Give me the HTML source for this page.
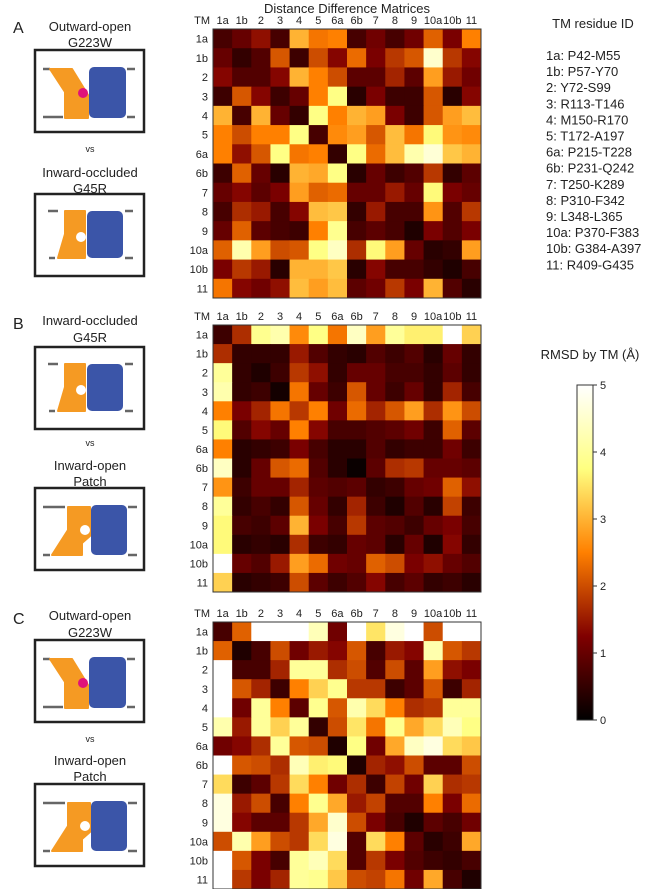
<!DOCTYPE html>
<html><head><meta charset="utf-8"><style>
body{margin:0;background:#fff}
svg{display:block;font-family:"Liberation Sans",sans-serif}
</style></head><body>
<svg id="fig" width="648" height="889" viewBox="0 0 648 889" xmlns="http://www.w3.org/2000/svg">
<defs>
<g id="outopen">
<rect x="0" y="0" width="109" height="82" fill="#fff" stroke="#222" stroke-width="2.5"/>
<g stroke="#666" stroke-width="2.5"><line x1="8" y1="19" x2="15" y2="19"/><line x1="8" y1="67" x2="28" y2="67"/><line x1="92" y1="19" x2="100" y2="19"/><line x1="92" y1="67" x2="100" y2="67"/></g>
<polygon points="15,19 37,19 53,45 53,68 30,68 30,42" fill="#f59a23" stroke="#f59a23" stroke-width="2" stroke-linejoin="round"/>
<rect x="54" y="17" width="37" height="51" rx="5" fill="#3b55a8"/>
<circle cx="48" cy="43" r="5" fill="#e0127a"/>
</g>
<g id="inocc">
<rect x="0" y="0" width="109" height="82" fill="#fff" stroke="#222" stroke-width="2.5"/>
<g stroke="#666" stroke-width="2.5"><line x1="13" y1="17" x2="23" y2="17"/><line x1="14" y1="64" x2="20" y2="64"/><line x1="90" y1="17" x2="98" y2="17"/><line x1="90" y1="64" x2="98" y2="64"/></g>
<polygon points="30,17 50,17 50,64 23,64 30,40" fill="#f59a23" stroke="#f59a23" stroke-width="2" stroke-linejoin="round"/>
<circle cx="46" cy="43" r="5" fill="#fff"/>
<rect x="52" y="17" width="36" height="47" rx="5" fill="#3b55a8"/>
</g>
<g id="inopen">
<rect x="0" y="0" width="109" height="82" fill="#fff" stroke="#222" stroke-width="2.5"/>
<g stroke="#666" stroke-width="2.5"><line x1="8" y1="19" x2="30" y2="19"/><line x1="8" y1="67" x2="15" y2="67"/><line x1="93" y1="19" x2="102" y2="19"/><line x1="93" y1="67" x2="102" y2="67"/></g>
<polygon points="33,19 55,19 55,48 47,55 47,67 17,67 33,42" fill="#f59a23" stroke="#f59a23" stroke-width="2" stroke-linejoin="round"/>
<circle cx="50" cy="42" r="5" fill="#fff"/>
<rect x="56" y="17" width="36" height="50" rx="5" fill="#3b55a8"/>
</g>
<linearGradient id="cbgrad" x1="0" y1="1" x2="0" y2="0">
<stop offset="0" stop-color="#000"/><stop offset="0.25" stop-color="#800000"/><stop offset="0.5" stop-color="#ff8000"/><stop offset="0.75" stop-color="#ffff80"/><stop offset="1" stop-color="#fff"/>
</linearGradient>
</defs>
<g font-size="13" fill="#222" text-anchor="middle">
<text x="13" y="33" font-size="16" text-anchor="start">A</text>
<text x="90" y="31">Outward-open</text>
<text x="90" y="47">G223W</text>
<text x="90" y="152" font-size="9">vs</text>
<text x="90" y="177">Inward-occluded</text>
<text x="90" y="193">G45R</text>
<text x="13" y="329" font-size="16" text-anchor="start">B</text>
<text x="90" y="325">Inward-occluded</text>
<text x="90" y="342">G45R</text>
<text x="90" y="446" font-size="9">vs</text>
<text x="90" y="470">Inward-open</text>
<text x="90" y="486">Patch</text>
<text x="13" y="624" font-size="16" text-anchor="start">C</text>
<text x="90" y="620">Outward-open</text>
<text x="90" y="637">G223W</text>
<text x="90" y="742" font-size="9">vs</text>
<text x="90" y="765">Inward-open</text>
<text x="90" y="781">Patch</text>
</g>
<use href="#outopen" x="35" y="50"/>
<use href="#inocc" x="35" y="194"/>
<use href="#inocc" x="35" y="347"/>
<use href="#inopen" x="35" y="488"/>
<use href="#outopen" x="35" y="640"/>
<use href="#inopen" x="35" y="784"/>
<text x="347" y="13" font-size="13" fill="#222" text-anchor="middle">Distance Difference Matrices</text>
<g font-size="13" fill="#222">
<text x="593" y="28" text-anchor="middle">TM residue ID</text>
<g id="legitems"></g>
</g>
<g id="hm"></g>
<text x="590" y="359" font-size="13" fill="#222" text-anchor="middle">RMSD by TM (Å)</text>
<rect x="577" y="385" width="16" height="335" fill="url(#cbgrad)" stroke="#333" stroke-width="1"/>
<g id="cbticks"></g>
</svg>
<script>
const labels = ["1a","1b","2","3","4","5","6a","6b","7","8","9","10a","10b","11"];
const residues = ["P42-M55","P57-Y70","Y72-S99","R113-T146","M150-R170","T172-A197","P215-T228","P231-Q242","T250-K289","P310-F342","L348-L365","P370-F383","G384-A397","R409-G435"];
const cbTicks = [0,1,2,3,4,5];
const matrixA = [
[0.7,1.0,1.4,0.7,3.0,2.4,2.5,0.7,1.1,0.7,1.1,2.2,1.2,2.5],
[1.0,0.5,0.8,2.1,0.6,2.0,1.3,2.3,1.2,1.8,2.1,4.5,1.8,1.3],
[1.3,0.8,0.8,1.3,3.0,2.5,2.0,0.9,0.9,1.6,0.9,2.8,1.5,1.1],
[0.6,2.1,1.3,0.6,1.0,2.5,3.8,0.4,1.2,0.6,0.6,2.1,0.4,1.3],
[3.0,0.7,3.0,1.0,0.5,3.8,2.5,3.0,2.8,1.2,0.6,2.1,2.8,3.1],
[2.5,2.0,2.5,2.5,3.8,0.7,2.6,2.8,2.1,3.1,2.4,3.7,2.7,2.6],
[2.5,1.4,2.1,3.8,2.4,2.5,0.5,3.8,2.3,3.1,4.2,4.6,3.2,3.0],
[0.6,2.2,1.0,0.4,3.0,2.9,3.8,0.4,1.0,0.6,0.8,1.8,0.5,0.9],
[1.0,1.3,0.9,1.2,2.8,2.2,2.3,1.0,1.0,1.5,1.0,3.7,1.2,1.0],
[0.7,1.7,1.5,0.7,1.3,3.1,3.2,0.5,1.5,0.7,0.7,2.7,0.8,1.8],
[1.0,2.2,0.9,0.7,0.6,2.5,3.9,0.7,0.9,0.7,0.3,1.2,0.8,1.2],
[2.2,4.2,2.8,2.0,2.1,3.8,4.4,1.7,3.7,2.8,1.0,0.4,0.5,2.8],
[1.2,1.8,1.5,0.4,3.0,3.0,3.2,0.4,1.3,0.7,0.7,0.5,0.3,0.7],
[2.4,1.3,1.1,1.4,3.1,2.8,3.1,0.9,1.1,1.8,1.2,3.0,0.8,0.4]];
const matrixB = [
[0.6,1.7,3.9,4.2,2.6,3.8,2.4,4.4,2.8,4.0,3.6,3.6,5.0,3.3],
[1.7,0.5,0.5,0.5,1.5,0.8,0.5,0.4,0.8,0.6,0.8,0.4,1.0,0.5],
[4.0,0.5,0.3,0.6,1.8,1.4,0.5,1.0,1.0,0.7,0.7,0.5,0.9,0.5],
[4.2,0.5,0.6,0.2,2.4,1.0,0.6,2.1,1.0,0.6,1.0,0.5,1.6,0.7],
[2.5,1.2,1.6,2.4,1.8,2.5,1.1,2.3,1.6,2.1,2.8,1.7,2.7,2.0],
[3.7,0.8,1.3,1.0,2.5,1.3,0.7,0.7,0.8,0.9,1.1,0.6,2.2,0.9],
[2.5,0.4,0.5,0.6,1.2,0.7,0.4,0.4,0.8,0.5,0.6,0.6,1.1,0.6],
[4.4,0.4,1.0,2.1,2.3,0.8,0.4,0.1,0.9,1.7,1.8,1.0,1.0,0.9],
[2.7,0.6,1.0,1.0,1.6,0.9,0.8,0.9,0.5,0.6,1.0,1.1,2.2,1.4],
[4.0,0.5,0.7,0.5,2.1,1.0,0.5,1.6,0.6,0.3,0.8,0.4,1.9,0.6],
[3.7,0.7,0.6,0.9,3.0,1.2,0.7,1.8,0.9,0.8,0.6,1.0,1.2,0.7],
[3.7,0.4,0.5,0.4,1.7,0.6,0.5,1.0,0.9,0.4,1.0,0.3,1.3,0.5],
[5.0,1.0,0.8,1.5,2.8,2.3,1.1,1.0,2.2,2.0,1.2,1.4,1.0,0.8],
[3.3,0.4,0.5,0.6,2.0,0.9,0.6,0.8,1.3,0.7,0.9,0.5,0.6,0.4]];
const matrixC = [
[0.7,2.2,5.0,5.0,5.0,4.3,1.1,5.0,3.5,4.7,5.0,2.0,5.0,5.0],
[2.2,0.3,0.7,2.0,1.1,1.5,1.3,2.1,0.7,1.5,1.3,4.2,2.1,1.8],
[5.0,0.7,0.7,1.6,4.0,4.0,1.7,2.0,0.8,2.0,0.9,2.8,1.4,1.2],
[5.0,2.1,1.6,0.6,2.5,3.3,3.9,1.8,1.8,0.6,0.9,2.1,0.6,1.6],
[5.0,1.1,4.0,2.5,0.9,3.9,2.1,4.2,3.4,2.5,1.7,1.8,4.0,4.0],
[4.2,1.5,4.0,3.3,4.0,0.5,2.0,3.5,2.4,3.9,2.9,3.4,4.3,3.8],
[1.1,1.3,1.7,4.0,2.1,2.0,0.3,3.8,1.1,2.9,4.4,4.7,3.4,3.2],
[5.0,2.1,2.0,1.7,4.3,3.6,3.7,0.3,1.6,1.4,2.0,0.9,0.9,2.0],
[3.4,0.6,0.9,1.8,3.4,2.5,1.1,1.7,0.6,1.9,1.1,3.3,1.7,1.8],
[4.7,1.5,2.0,0.7,2.5,3.9,2.9,1.5,1.9,0.8,0.8,2.5,1.2,2.3],
[4.7,1.3,0.9,0.9,1.8,2.9,4.5,2.0,1.2,0.7,0.3,0.9,0.7,1.1],
[2.0,4.2,2.8,2.0,1.8,3.4,4.7,0.8,3.4,2.5,0.9,0.4,0.6,2.9],
[5.0,2.1,1.2,0.7,4.0,4.3,3.4,0.8,1.8,1.2,0.8,0.6,0.5,0.7],
[5.0,1.8,1.2,1.6,4.0,3.9,3.2,2.0,1.9,2.4,1.1,2.9,0.7,0.3]];

const NS = "http://www.w3.org/2000/svg";
const VMAX = 5;
function cmap(v){
  const x = Math.max(0, Math.min(1, v / VMAX));
  const c = t => Math.round(255 * Math.max(0, Math.min(1, t)));
  return "rgb(" + c(2*x) + "," + c(2*x-0.5) + "," + c(2*x-1) + ")";
}
function mk(tag, attrs, parent){
  const e = document.createElementNS(NS, tag);
  for (const k in attrs) e.setAttribute(k, attrs[k]);
  parent.appendChild(e);
  return e;
}
const hm = document.getElementById("hm");
const panels = [
  {m: matrixA, id: "a", x0: 213, x1: 481, y0: 29, y1: 298},
  {m: matrixB, id: "b", x0: 213, x1: 481, y0: 325, y1: 592},
  {m: matrixC, id: "c", x0: 213, x1: 481, y0: 622, y1: 889}
];
panels.forEach(p => {
  const g = mk("g", {}, hm);
  
  
  const n = labels.length;
  const cw = (p.x1 - p.x0) / n, ch = (p.y1 - p.y0) / n;
  const xs = i => p.x0 + i * cw;
  const ys = j => p.y0 + j * ch;
  p.m.forEach((row, r) => row.forEach((v, c) => {
    const cell = mk("rect", {x: xs(c).toFixed(2), y: ys(r).toFixed(2), width: (cw + 0.5).toFixed(2), height: (ch + 0.5).toFixed(2), fill: cmap(v)}, g);
    
    
  }));
  const frame = mk("rect", {x: p.x0, y: p.y0, width: p.x1 - p.x0, height: p.y1 - p.y0, fill: "none", stroke: "#333", "stroke-width": 1}, g);
  
  
  const tm = mk("text", {x: p.x0 - 3, y: p.y0 - 5, "font-size": 11, fill: "#222", "text-anchor": "end"}, g);
  tm.textContent = "TM";
  
  
  labels.forEach((l, i) => {
    const tx = mk("text", {x: (xs(i) + cw / 2).toFixed(1), y: p.y0 - 5, "font-size": 11, fill: "#222", "text-anchor": "middle"}, g);
    tx.textContent = l;
    
    
    const ty = mk("text", {x: p.x0 - 5, y: (ys(i) + ch / 2 + 4).toFixed(1), "font-size": 11, fill: "#222", "text-anchor": "end"}, g);
    ty.textContent = l;
    
    
  });
});
const leg = document.getElementById("legitems");
labels.forEach((l, i) => {
  const t = mk("text", {x: 546, y: 60 + i * 16.1}, leg);
  t.textContent = l + ": " + residues[i];
  
  
});
const cbt = document.getElementById("cbticks");
const cbY = v => 720 - (v / VMAX) * 335;
cbTicks.forEach(v => {
  const ln = mk("line", {x1: 593, x2: 597, y1: cbY(v), y2: cbY(v), stroke: "#333"}, cbt);
  
  
  const t = mk("text", {x: 600, y: cbY(v) + 4, "font-size": 11, fill: "#222"}, cbt);
  t.textContent = v;
  
  
});
</script>
</body></html>
